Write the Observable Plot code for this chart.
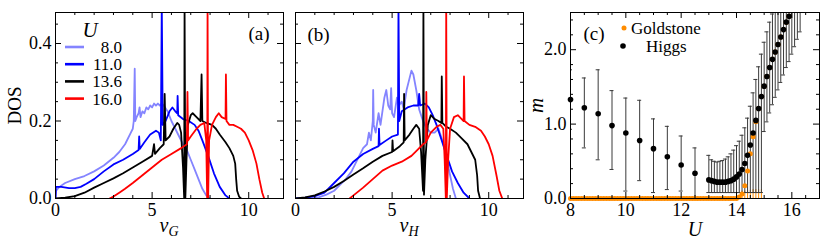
<!DOCTYPE html>
<html><head><meta charset="utf-8">
<script src="https://cdn.jsdelivr.net/npm/d3@7"></script>
<script src="https://cdn.jsdelivr.net/npm/@observablehq/plot@0.6"></script>
<style>
body{margin:0;background:#fff;}
#wrap{position:relative;width:831px;height:242px;overflow:hidden;background:#fff;font-family:'Liberation Serif','Times New Roman',serif;}
#wrap svg{position:absolute;top:0;}
#wrap svg text{font-family:'Liberation Serif','Times New Roman',serif;}
</style></head><body><div id="wrap"></div>
<script>
// ---------- DATA ----------
const uLabels = ["8.0", "11.0", "13.6", "16.0"];
const uColors = ["#8484ff", "#0000ff", "#000000", "#ff0000"];

// panel (a): DOS vs nu_G, [nu, DOS]
const dosG_U8 = [[0,0],[0.03,0.02],[0.2,0.03],[0.5,0.04],[1,0.05],[1.5,0.058],[2,0.07],[2.5,0.085],[3,0.105],[3.3,0.12],[3.6,0.14],[3.9,0.17],[4.0,0.18],[4.05,0.2],[4.1,0.335],[4.13,0.2],[4.2,0.21],[4.3,0.22],[4.35,0.235],[4.4,0.21],[4.5,0.225],[4.6,0.22],[4.7,0.235],[4.8,0.23],[4.9,0.24],[5.0,0.235],[5.1,0.245],[5.2,0.24],[5.3,0.245],[5.4,0.24],[5.5,0.245],[5.6,0.24],[5.8,0.225],[6.0,0.2],[6.2,0.18],[6.4,0.16],[6.6,0.14],[6.8,0.125],[7.0,0.1],[7.2,0.075],[7.4,0.05],[7.6,0.025],[7.8,0.008],[8.0,0]];
const dosG_U11 = [[0,0],[0.02,0.03],[0.3,0.03],[0.7,0.027],[1,0.027],[1.3,0.03],[1.6,0.038],[2,0.05],[2.5,0.07],[3,0.088],[3.5,0.1],[4,0.115],[4.3,0.125],[4.33,0.16],[4.36,0.128],[4.6,0.145],[4.9,0.165],[5.2,0.175],[5.35,0.17],[5.45,0.15],[5.5,0.5],[5.55,0.19],[5.7,0.2],[5.9,0.225],[6.05,0.235],[6.2,0.225],[6.3,0.22],[6.32,0.265],[6.35,0.215],[6.6,0.205],[6.9,0.2],[7.2,0.19],[7.4,0.175],[7.6,0.15],[7.9,0.11],[8.2,0.065],[8.5,0.03],[8.8,0.008],[9.0,0]];
const dosG_U136 = [[0,0],[0.5,0.002],[1,0.006],[1.5,0.015],[2,0.028],[2.5,0.04],[3,0.052],[3.5,0.065],[4,0.08],[4.5,0.095],[5,0.11],[5.1,0.14],[5.15,0.115],[5.4,0.13],[5.6,0.14],[5.65,0.27],[5.7,0.15],[5.9,0.16],[6.1,0.18],[6.3,0.195],[6.4,0.19],[6.5,0.17],[6.6,0.08],[6.66,0],[6.68,0.5],[6.72,0],[6.78,0.1],[6.85,0.19],[7.0,0.215],[7.1,0.22],[7.3,0.21],[7.5,0.2],[7.56,0.32],[7.6,0.2],[7.8,0.195],[8.1,0.19],[8.3,0.18],[8.5,0.165],[8.8,0.145],[9.0,0.13],[9.2,0.11],[9.3,0.09],[9.35,0.05],[9.4,0.02],[9.5,0.005],[9.6,0]];
const dosG_U16 = [[2.8,0],[3.0,0.005],[3.3,0.015],[3.6,0.025],[4,0.04],[4.5,0.06],[5,0.08],[5.5,0.1],[6,0.115],[6.5,0.13],[6.8,0.14],[6.83,0.275],[6.86,0.15],[7.0,0.16],[7.3,0.18],[7.5,0.19],[7.7,0.195],[7.8,0.15],[7.85,0],[7.87,0.5],[7.9,0],[7.95,0.15],[8.1,0.19],[8.3,0.21],[8.45,0.22],[8.6,0.21],[8.8,0.205],[8.82,0.32],[8.85,0.2],[9.0,0.19],[9.2,0.19],[9.4,0.185],[9.6,0.18],[9.8,0.17],[10.0,0.15],[10.2,0.125],[10.4,0.09],[10.55,0.05],[10.7,0.015],[10.8,0]];

// panel (b): DOS vs nu_H
const dosH_U8 = [[0.8,0],[1.2,0.003],[1.6,0.01],[2,0.02],[2.3,0.035],[2.6,0.05],[2.9,0.07],[3.1,0.09],[3.3,0.11],[3.5,0.13],[3.7,0.14],[3.8,0.17],[3.9,0.15],[4.0,0.2],[4.02,0.28],[4.05,0.19],[4.15,0.17],[4.3,0.22],[4.4,0.19],[4.6,0.26],[4.7,0.28],[4.8,0.24],[4.9,0.23],[4.95,0.285],[5.0,0.22],[5.1,0.21],[5.25,0.26],[5.35,0.24],[5.5,0.25],[5.6,0.23],[5.75,0.28],[5.9,0.31],[6.0,0.33],[6.1,0.32],[6.25,0.28],[6.4,0.23],[6.6,0.2],[6.8,0.18],[7.0,0.17],[7.2,0.17],[7.4,0.18],[7.6,0.15],[7.8,0.11],[8.0,0.06],[8.15,0.025],[8.3,0]];
const dosH_U11 = [[0,0],[0.5,0.002],[1,0.006],[1.5,0.015],[2,0.04],[2.5,0.065],[3,0.095],[3.5,0.115],[4,0.128],[4.3,0.135],[4.32,0.18],[4.35,0.138],[4.7,0.15],[5.0,0.16],[5.3,0.165],[5.33,0.5],[5.37,0.2],[5.5,0.225],[5.8,0.235],[6.1,0.24],[6.35,0.24],[6.4,0.27],[6.45,0.24],[6.7,0.245],[6.9,0.235],[7.1,0.215],[7.3,0.19],[7.5,0.16],[7.7,0.13],[7.9,0.1],[8.1,0.07],[8.4,0.04],[8.7,0.015],[9.0,0]];
const dosH_U136 = [[0,0],[0.5,0.003],[1,0.008],[1.5,0.018],[2,0.03],[2.5,0.045],[3,0.062],[3.5,0.078],[4,0.095],[4.5,0.11],[5.0,0.12],[5.02,0.15],[5.05,0.122],[5.4,0.135],[5.6,0.145],[5.62,0.27],[5.65,0.15],[5.9,0.165],[6.1,0.18],[6.25,0.19],[6.4,0.18],[6.5,0.12],[6.6,0.02],[6.62,0.5],[6.65,0.01],[6.72,0.1],[6.85,0.19],[7.0,0.215],[7.2,0.205],[7.4,0.2],[7.55,0.195],[7.57,0.315],[7.6,0.195],[7.8,0.185],[8.0,0.18],[8.3,0.17],[8.6,0.155],[8.9,0.14],[9.1,0.12],[9.3,0.1],[9.4,0.06],[9.45,0.02],[9.55,0]];
const dosH_U16 = [[2.8,0],[3.0,0.008],[3.5,0.028],[4,0.05],[4.5,0.072],[5,0.085],[5.5,0.095],[6,0.11],[6.3,0.125],[6.6,0.14],[6.75,0.145],[6.77,0.275],[6.8,0.15],[7.0,0.17],[7.3,0.185],[7.5,0.19],[7.65,0.18],[7.72,0.1],[7.78,0],[7.8,0.5],[7.83,0],[7.9,0.1],[8.0,0.18],[8.2,0.21],[8.4,0.215],[8.6,0.205],[8.7,0.2],[8.72,0.315],[8.75,0.2],[9.0,0.19],[9.3,0.185],[9.6,0.175],[9.8,0.16],[10.0,0.14],[10.2,0.11],[10.4,0.06],[10.55,0.02],[10.7,0]];

// ticks for DOS panels
const nuMajor = [0, 5, 10];
const nuMinor = [1, 2, 3, 4, 6, 7, 8, 9, 11];
const dosMajor = [0, 0.2, 0.4];
const dosMinor = [0.05, 0.1, 0.15, 0.25, 0.3, 0.35, 0.45];

// panel (c): Higgs
const higgsU  = [8.0,8.5,9.0,9.5,10.0,10.5,11.0,11.5,12.0,12.5,13.0,13.1,13.2,13.3,13.4,13.5,13.6,13.7,13.8,13.9,14.0,14.1,14.2,14.3,14.4,14.5,14.6,14.7,14.8,14.9,15.0,15.1,15.2,15.3,15.4,15.5,15.6,15.7,15.8,15.9,16.0,16.1,16.2,16.3];
const higgsM  = [1.33,1.22,1.14,0.98,0.88,0.78,0.67,0.56,0.45,0.34,0.25,0.24,0.23,0.22,0.22,0.22,0.22,0.23,0.24,0.26,0.29,0.33,0.39,0.47,0.58,0.72,0.88,1.05,1.21,1.37,1.51,1.64,1.76,1.87,1.97,2.07,2.17,2.27,2.37,2.45,2.55,2.65,2.75,2.85];
const higgsLo = [0.93,0.68,0.52,0.39,0.10,0.24,0.08,0.12,0.10,0.00,0.08,0.08,0.08,0.08,0.08,0.08,0.08,0.08,0.08,0.08,0.08,0.08,0.08,0.08,0.08,0.08,0.08,0.08,0.08,0.08,0.90,1.03,1.15,1.26,1.36,1.46,1.56,1.66,1.76,1.84,1.94,2.04,2.14,2.24];
const higgsHi = [1.73,1.62,1.73,1.45,1.35,1.32,1.07,0.97,0.84,0.68,0.58,0.52,0.50,0.49,0.50,0.51,0.53,0.56,0.60,0.65,0.71,0.77,0.85,0.95,1.08,1.24,1.42,1.60,1.77,1.94,2.10,2.24,2.37,2.48,2.60,2.70,2.80,2.90,3.00,3.05,3.15,3.25,3.35,3.45];

// panel (c): Goldstone
const goldU = [8.0,8.1,8.2,8.3,8.4,8.5,8.6,8.7,8.8,8.9,9.0,9.1,9.2,9.3,9.4,9.5,9.6,9.7,9.8,9.9,10.0,10.1,10.2,10.3,10.4,10.5,10.6,10.7,10.8,10.9,11.0,11.1,11.2,11.3,11.4,11.5,11.6,11.7,11.8,11.9,12.0,12.1,12.2,12.3,12.4,12.5,12.6,12.7,12.8,12.9,13.0,13.1,13.2,13.3,13.4,13.5,13.6,13.7,13.8,13.9,14.0,14.1,14.2,14.3,14.4,14.5,14.6,14.7,14.8,14.9,15.0,15.1,15.2,15.3,15.4,15.5,15.6,15.7,15.8,15.9];
const goldM = [0,0,0,0,0,0,0,0,0,0,0,0,0,0,0,0,0,0,0,0,0,0,0,0,0,0,0,0,0,0,0,0,0,0,0,0,0,0,0,0,0,0,0,0,0,0,0,0,0,0,0,0,0,0,0,0,0,0,0,0,0,0.02,0.06,0.17,0.37,0.60,0.83,1.03,1.21,1.37,1.51,1.64,1.76,1.87,1.97,2.07,2.17,2.27,2.37,2.45];
const goldBarU = [14.2,14.3,14.4,14.5,14.6,14.7,14.8,14.9];
const goldBarHi = [0.1,0.1,0.11,0.11,0.12,0.12,0.12,0.12];
const seriesLabels = ["Goldstone", "Higgs"];

const uMajor = [8, 10, 12, 14, 16];
const uMinor = [8.5,9,9.5,10.5,11,11.5,12.5,13,13.5,14.5,15,15.5,16.5];
const mMajor = [0, 1, 2];
const mMinor = [0.2,0.4,0.6,0.8,1.2,1.4,1.6,1.8,2.2,2.4];

// ---------- DRAWING ----------
const FONT = "'Liberation Serif', 'Times New Roman', serif";
const H = 242, MT = 12, MB = 44;
const wrap = document.getElementById("wrap");
const TXT = {textAnchor: "middle", lineAnchor: "middle", fill: "black", fontFamily: FONT};

function frameTicks(xMaj, xMin, yMaj, yMin, w, h) {
  const L = 6, l = 3, s = {stroke: "black", strokeWidth: 1};
  return [
    Plot.ruleX(xMaj, {...s, insetTop: h - L}), Plot.ruleX(xMaj, {...s, insetBottom: h - L}),
    Plot.ruleX(xMin, {...s, insetTop: h - l}), Plot.ruleX(xMin, {...s, insetBottom: h - l}),
    Plot.ruleY(yMaj, {...s, insetRight: w - L}), Plot.ruleY(yMaj, {...s, insetLeft: w - L}),
    Plot.ruleY(yMin, {...s, insetRight: w - l}), Plot.ruleY(yMin, {...s, insetLeft: w - l})
  ];
}

function fixFont(svg) {
  d3.select(svg).attr("font-family", FONT).selectAll("text").attr("font-family", FONT);
}

function addTitle(svg, main, sub, y) {
  const xr = svg.scale("x").range;
  const cx = (xr[0] + xr[1]) / 2;
  const t = d3.select(svg).append("text").attr("x", cx).attr("y", y)
    .attr("text-anchor", "middle").attr("font-family", FONT).attr("font-size", 20)
    .attr("font-style", "italic").attr("fill", "black");
  t.append("tspan").text(main);
  if (sub) t.append("tspan").attr("dy", 4).attr("font-size", 14).text(sub);
}

function dosPanel(curves, left, width, ml, mr, showY, tag, tagOpts, titleSub) {
  const w = width - ml - mr, h = H - MT - MB;
  const marks = [
    ...curves.map((c, i) => Plot.line(c, {x: d => d[0], y: d => d[1], stroke: uColors[i], strokeWidth: 1.8, clip: true})),
    Plot.frame({stroke: "black", strokeWidth: 1}),
    ...frameTicks(nuMajor, nuMinor, dosMajor, dosMinor, w, h),
    Plot.axisX({ticks: nuMajor, tickSize: 0, tickPadding: 5, tickFormat: d => String(d), label: null, fontSize: 18, fontFamily: FONT}),
    Plot.text([tag], {...TXT, frameAnchor: tagOpts.anchor, dx: tagOpts.dx, dy: tagOpts.dy, textAnchor: tagOpts.ta, fontSize: 19})
  ];
  if (showY) {
    marks.push(Plot.axisY({ticks: dosMajor, tickSize: 0, tickPadding: 4, tickFormat: d3.format(".1f"), label: null, fontSize: 18, fontFamily: FONT}));
    marks.push(Plot.text(["DOS"], {...TXT, frameAnchor: "left", rotate: -90, dx: -41, fontSize: 19}));
  }
  const p = Plot.plot({
    width, height: H, marginLeft: ml, marginRight: mr, marginTop: MT, marginBottom: MB,
    x: {domain: [0, 11.8]}, y: {domain: [0, 0.48], axis: showY ? undefined : null},
    style: {fontFamily: FONT, fontSize: "18px", background: "transparent", overflow: "visible", color: "black"},
    marks
  });
  p.style.left = left + "px";
  fixFont(p);
  addTitle(p, "ν", titleSub, 232);
  wrap.appendChild(p);
  return p;
}

const pa = dosPanel([dosG_U8, dosG_U11, dosG_U136, dosG_U16], 0, 285, 55, 2, true, "(a)",
  {anchor: "top-right", dx: -14, dy: 21, ta: "end"}, "G");
const pb = dosPanel([dosH_U8, dosH_U11, dosH_U136, dosH_U16], 285, 240, 10, 2, false, "(b)",
  {anchor: "top-left", dx: 12, dy: 22, ta: "start"}, "H");

// legend of panel (a)
{
  const g = d3.select(pa).append("g").attr("font-family", FONT).attr("font-size", 17).attr("fill", "black");
  g.append("text").attr("x", 90).attr("y", 30).attr("dy", "0.35em").attr("text-anchor", "middle").attr("font-style", "italic").attr("font-size", 21).text("U");
  uLabels.forEach((lab, i) => {
    const y = 47 + i * 17.2;
    g.append("line").attr("x1", 65).attr("x2", 84).attr("y1", y).attr("y2", y).attr("stroke", uColors[i]).attr("stroke-width", 2.6);
    g.append("text").attr("x", 122).attr("y", y).attr("dy", "0.35em").attr("text-anchor", "end").text(lab);
  });
}

// panel (c)
{
  const higgs = higgsU.map((u, i) => ({u, m: higgsM[i], lo: higgsLo[i], hi: higgsHi[i]}));
  const gold = goldU.map((u, i) => ({u, m: goldM[i]}));
  const goldBars = goldBarU.map((u, i) => ({u, lo: 0, hi: goldBarHi[i]}));
  const width = 306, ml = 45, mr = 12;
  const w = width - ml - mr, h = H - MT - MB;
  const orange = "#ff8c00", bar = "#3a3a3a";
  const inView = d => d.m <= 2.5;
  const p = Plot.plot({
    width, height: H, marginLeft: ml, marginRight: mr, marginTop: MT, marginBottom: MB,
    x: {domain: [8, 17]}, y: {domain: [0, 2.5]},
    style: {fontFamily: FONT, fontSize: "18px", background: "transparent", overflow: "visible", color: "black"},
    marks: [
      Plot.ruleX(goldBars, {x: "u", y1: "lo", y2: "hi", stroke: orange, strokeWidth: 1, clip: true}),
      Plot.ruleX(higgs, {x: "u", y1: "lo", y2: "hi", stroke: bar, strokeWidth: 1, clip: true}),
      Plot.ruleY(higgs, {x1: "u", x2: "u", y: "lo", insetLeft: -2, insetRight: -2, stroke: bar, strokeWidth: 1, clip: true}),
      Plot.ruleY(higgs, {x1: "u", x2: "u", y: "hi", insetLeft: -2, insetRight: -2, stroke: bar, strokeWidth: 1, clip: true}),
      Plot.dot(gold, {x: "u", y: "m", r: 2.5, fill: orange, stroke: "none", filter: inView}),
      Plot.dot(higgs, {x: "u", y: "m", r: 2.8, fill: "black", stroke: "none", filter: inView}),
      Plot.frame({stroke: "black", strokeWidth: 1}),
      ...frameTicks(uMajor, uMinor, mMajor, mMinor, w, h),
      Plot.axisX({ticks: uMajor, tickSize: 0, tickPadding: 5, tickFormat: d => String(d), label: null, fontSize: 18, fontFamily: FONT}),
      Plot.axisY({ticks: mMajor, tickSize: 0, tickPadding: 4, tickFormat: d3.format(".1f"), label: null, fontSize: 18, fontFamily: FONT}),
      Plot.text(["m"], {...TXT, frameAnchor: "left", rotate: -90, dx: -34, fontSize: 21, fontStyle: "italic"}),
      Plot.text(["U"], {...TXT, frameAnchor: "bottom", dy: 31, fontSize: 20, fontStyle: "italic"}),
      Plot.text(["(c)"], {...TXT, frameAnchor: "top-left", dx: 13, dy: 21, textAnchor: "start", fontSize: 19})
    ]
  });
  p.style.left = "525px";
  fixFont(p);
  const g = d3.select(p).append("g").attr("font-family", FONT).attr("font-size", 17).attr("fill", "black");
  g.append("circle").attr("cx", 99).attr("cy", 28).attr("r", 2.5).attr("fill", orange);
  g.append("text").attr("x", 106).attr("y", 28).attr("dy", "0.35em").attr("text-anchor", "start").text(seriesLabels[0]);
  g.append("circle").attr("cx", 98).attr("cy", 46).attr("r", 2.8).attr("fill", "black");
  g.append("text").attr("x", 121).attr("y", 46).attr("dy", "0.35em").attr("text-anchor", "start").text(seriesLabels[1]);
  wrap.appendChild(p);
}
</script></body></html>
